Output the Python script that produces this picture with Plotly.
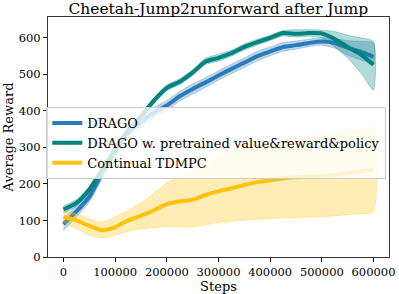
import plotly.graph_objects as go

steps = [0, 25000, 50000, 75000, 100000, 125000, 150000, 175000, 200000, 225000,
         250000, 275000, 300000, 325000, 350000, 375000, 400000, 425000, 450000,
         475000, 500000, 525000, 550000, 575000, 600000]

drago = [90, 125, 165, 230, 290, 340, 370, 395, 415, 440, 460, 478, 497, 515,
         532, 550, 563, 575, 580, 586, 590, 586, 573, 562, 548]
drago_lo = [72, 110, 150, 215, 275, 325, 355, 381, 401, 427, 446, 465, 484, 502,
            519, 537, 551, 563, 569, 576, 580, 572, 553, 540, 531]
drago_hi = [104, 140, 179, 245, 305, 355, 385, 409, 429, 453, 474, 491, 510, 528,
            545, 563, 575, 587, 591, 596, 600, 598, 592, 590, 586]

pre = [130, 148, 185, 240, 295, 345, 385, 428, 463, 480, 505, 535, 545, 558,
       575, 588, 600, 613, 611, 613, 612, 597, 575, 555, 526]
pre_lo = [120, 139, 176, 231, 286, 336, 376, 420, 455, 472, 497, 527, 536, 550,
          567, 580, 593, 605, 602, 604, 600, 575, 545, 505, 457]
pre_hi = [140, 157, 194, 249, 304, 354, 394, 436, 471, 488, 513, 544, 555, 566,
          583, 596, 607, 620, 622, 622, 621, 617, 607, 600, 590]

tdmpc = [110, 100, 85, 73, 82, 100, 113, 128, 145, 152, 157, 170, 180, 188,
         197, 205, 210, 215, 218, 220, 221, 225, 230, 235, 239]
tdmpc_lo = [95, 78, 60, 52, 60, 70, 77, 80, 83, 83, 82, 88, 95, 98, 101, 103,
            105, 107, 108, 109, 110, 113, 116, 119, 123]
tdmpc_hi = [125, 118, 105, 95, 110, 128, 148, 175, 203, 218, 230, 250, 270, 283,
            295, 303, 310, 318, 325, 330, 335, 340, 345, 350, 353]

series = [
    ("DRAGO", drago, drago_lo, drago_hi, "#2b7bba", "rgba(43,123,186,0.3)"),
    ("DRAGO w. pretrained value&reward&policy", pre, pre_lo, pre_hi, "#00847f", "rgba(0,132,127,0.3)"),
    ("Continual TDMPC", tdmpc, tdmpc_lo, tdmpc_hi, "#ffc20a", "rgba(255,194,10,0.3)"),
]

fig = go.Figure()
for name, mean, lo, hi, col, fcol in series:
    fig.add_trace(go.Scatter(
        x=steps + steps[::-1], y=hi + lo[::-1], fill="toself", fillcolor=fcol,
        line=dict(color=fcol, width=1, shape="spline", smoothing=0.6),
        mode="lines", showlegend=False, hoverinfo="skip"))
    fig.add_trace(go.Scatter(
        x=steps, y=mean, mode="lines", name=name,
        line=dict(color=col, width=4, shape="spline", smoothing=0.6)))

font = "DejaVu Serif, serif"
fig.update_layout(
    width=399, height=294,
    margin=dict(l=48, r=10, t=17, b=37, autoexpand=False),
    paper_bgcolor="white", plot_bgcolor="white",
    font=dict(family=font, size=11, color="black"),
    title=dict(text="Cheetah-Jump2runforward after Jump", x=0.547, xanchor="center",
               y=0.99, yanchor="top", font=dict(family=font, size=15.5)),
    legend=dict(x=-0.005, y=0.625, xanchor="left", yanchor="top",
                bgcolor="rgba(255,255,255,0.8)", bordercolor="#cccccc", borderwidth=1,
                font=dict(family=font, size=13), tracegroupgap=0, itemwidth=30),
    xaxis=dict(range=[-30000, 630000], tickvals=[0, 100000, 200000, 300000, 400000, 500000, 600000],
               ticktext=["0", "100000", "200000", "300000", "400000", "500000", "600000"],
               ticks="outside", ticklen=4, tickcolor="black", showline=True, linecolor="#333333",
               mirror=True, showgrid=False, zeroline=False, tickfont=dict(size=11.5),
               automargin=False,
               title=dict(text="Steps", font=dict(size=13), standoff=0)),
    yaxis=dict(range=[0, 657], tickvals=[0, 100, 200, 300, 400, 500, 600],
               ticks="outside", ticklen=4, tickcolor="black", showline=True, linecolor="#333333",
               mirror=True, showgrid=False, zeroline=False, tickfont=dict(size=11.5),
               automargin=False,
               title=dict(text="Average Reward", font=dict(size=13), standoff=2)),
)
fig.write_html("out.html", config={"displayModeBar": False},
               post_script="document.body.style.margin='0';document.body.style.padding='0';")
